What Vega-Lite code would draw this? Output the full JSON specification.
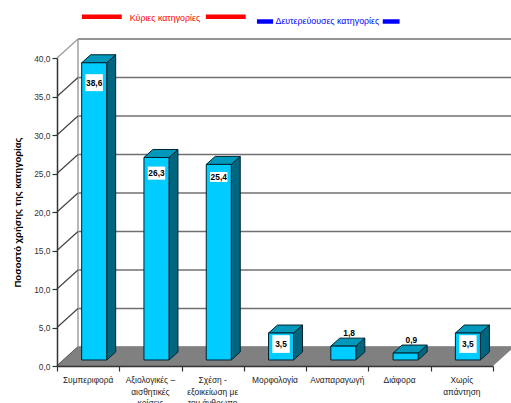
{
"$schema":"https://vega.github.io/schema/vega-lite/v6.json",
"width":436,"height":308,
"autosize":"none",
"padding":{"left":57,"top":58,"right":18,"bottom":37},
"background":"white",
"config":{"view":{"stroke":null},"font":"Liberation Sans","axis":{"labelOverlap":false,"labelBound":false,"labelFlush":false}},
"datasets":{
"bars":[
{"category":"Συμπεριφορά","label":"Συμπεριφορά","order":0,"value":38.6,"tag":"38,6","boxLow":35.7,"boxHigh":37.9},
{"category":"Αξιολογικές","label":"Αξιολογικές –\nαισθητικές\nκρίσεις","order":1,"value":26.3,"tag":"26,3","boxLow":24.2,"boxHigh":25.9},
{"category":"Σχέση","label":"Σχέση -\nεξοικείωση με\nτον άνθρωπο","order":2,"value":25.4,"tag":"25,4","boxLow":23.9,"boxHigh":25.2},
{"category":"Μορφολογία","label":"Μορφολογία","order":3,"value":3.5,"tag":"3,5","boxLow":1.7,"boxHigh":4.0},
{"category":"Αναπαραγωγή","label":"Αναπαραγωγή","order":4,"value":1.8,"tag":"1,8"},
{"category":"Διάφορα","label":"Διάφορα","order":5,"value":0.9,"tag":"0,9"},
{"category":"Χωρίς απάντηση","label":"Χωρίς\nαπάντηση","order":6,"value":3.5,"tag":"3,5","boxLow":1.7,"boxHigh":4.0}
],
"levels":[{"level":0},{"level":5},{"level":10},{"level":15},{"level":20},{"level":25},{"level":30},{"level":35},{"level":40}],
"legendLines":[
{"name":"Κύριες","from":0.4,"to":1.04,"at":45.36,"color":"#ff0000"},
{"name":"Κύριες","from":2.39,"to":3.03,"at":45.36,"color":"#ff0000"},
{"name":"Δευτερεύουσες","from":3.21,"to":3.47,"at":44.74,"color":"#0000ff"},
{"name":"Δευτερεύουσες","from":5.23,"to":5.5,"at":44.74,"color":"#0000ff"}
],
"legendText":[
{"text":"Κύριες κατηγορίες","pos":1.733,"at":45.25,"color":"#ff0000"},
{"text":"Δευτερεύουσες κατηγορίες","pos":4.34,"at":44.8,"color":"#0000ff"}
],
"floor":[{"back":0,"left":0,"right":7},{"back":2.47,"left":0.337,"right":7.337}]
},
"layer":[
{"data":{"name":"levels"},
 "transform":[{"calculate":"datum.level+2.47","as":"wallY"},{"calculate":"0.337","as":"wallX"},{"calculate":"7.3","as":"wallEnd"}],
 "mark":{"type":"rule","stroke":"#707070","strokeWidth":1.5,"clip":false},
 "encoding":{
  "x":{"field":"wallX","type":"quantitative","scale":{"domain":[0,7],"nice":false},
       "axis":{"values":[0,1,2,3,4,5,6,7],"labels":false,"title":null,"grid":false,"tickSize":5,"tickColor":"#333333","domainColor":"#333333","domainWidth":1.5,"tickWidth":1.2,"zindex":2}},
  "x2":{"field":"wallEnd"},
  "y":{"field":"wallY","type":"quantitative","scale":{"domain":[0,40],"nice":false},
       "axis":{"values":[0,5,10,15,20,25,30,35,40],"tickCount":9,"title":"Ποσοστό χρήσης της κατηγορίας","titleFontSize":9.5,"titleFontWeight":"bold","titleColor":"#000000","titlePadding":11,"labelFontSize":8.4,"labelColor":"#333333","labelOverlap":false,"labelSeparation":0,"labelExpr":"replace(format(datum.value,'.1f'),'.',',')","grid":false,"tickSize":5,"tickColor":"#333333","domainColor":"#333333","domainWidth":1.5,"tickWidth":1.2,"labelPadding":2,"zindex":2}}
 }},
{"data":{"values":[{"a":0.337,"b":2.47,"c":42.47}]},
 "mark":{"type":"rule","stroke":"#a0a0a0","strokeWidth":1.5,"clip":false},
 "encoding":{"x":{"field":"a","type":"quantitative"},"y":{"field":"b","type":"quantitative"},"y2":{"field":"c"}}},
{"data":{"name":"levels"},
 "transform":[{"calculate":"datum.level+2.47","as":"wallY"},{"calculate":"0.337","as":"wallX"},{"calculate":"0","as":"frontX"}],
 "mark":{"type":"rule","strokeWidth":1.2,"clip":false},
 "encoding":{
  "x":{"field":"frontX","type":"quantitative"},"x2":{"field":"wallX"},
  "y":{"field":"level","type":"quantitative"},"y2":{"field":"wallY"},
  "color":{"condition":{"test":"datum.level==40","value":"#999999"},"value":"#444444"}}},
{"data":{"name":"floor"},
 "mark":{"type":"area","orient":"horizontal","fill":"#808080","clip":false},
 "encoding":{"y":{"field":"back","type":"quantitative"},"x":{"field":"left","type":"quantitative"},"x2":{"field":"right"}}},
{"data":{"name":"bars"},
 "transform":[
  {"calculate":"[0,1]","as":"k"},{"flatten":["k"]},
  {"calculate":"datum.order+0.798+datum.k*0.144","as":"sx"},
  {"calculate":"0.78+datum.k*1.04","as":"low"},
  {"calculate":"datum.value+0.78+datum.k*1.04","as":"high"}],
 "mark":{"type":"area","fill":"#006680","stroke":"#00222c","strokeWidth":1,"clip":false},
 "encoding":{"detail":{"field":"category"},"x":{"field":"sx","type":"quantitative"},"y":{"field":"low","type":"quantitative"},"y2":{"field":"high"}}},
{"data":{"name":"bars"},
 "transform":[
  {"calculate":"[0,1]","as":"k"},{"flatten":["k"]},
  {"calculate":"datum.value+0.78+datum.k*1.04","as":"ty"},
  {"calculate":"datum.order+0.396+datum.k*0.144","as":"tl"},
  {"calculate":"datum.order+0.798+datum.k*0.144","as":"tr"}],
 "mark":{"type":"area","orient":"horizontal","fill":"#0099bb","stroke":"#00222c","strokeWidth":1,"clip":false},
 "encoding":{"detail":{"field":"category"},"y":{"field":"ty","type":"quantitative"},"x":{"field":"tl","type":"quantitative"},"x2":{"field":"tr"}}},
{"data":{"name":"bars"},
 "transform":[
  {"calculate":"datum.order+0.396","as":"l"},{"calculate":"datum.order+0.798","as":"r"},
  {"calculate":"0.78","as":"low"},{"calculate":"datum.value+0.78","as":"high"}],
 "mark":{"type":"rect","fill":"#00ccff","stroke":"#00222c","strokeWidth":1,"clip":false},
 "encoding":{"x":{"field":"l","type":"quantitative"},"x2":{"field":"r"},"y":{"field":"low","type":"quantitative"},"y2":{"field":"high"}}},
{"data":{"name":"bars"},
 "transform":[{"filter":"isValid(datum.boxLow)"},
  {"calculate":"datum.order+0.597-0.14","as":"l"},{"calculate":"datum.order+0.597+0.14","as":"r"}],
 "mark":{"type":"rect","fill":"white","clip":false},
 "encoding":{"x":{"field":"l","type":"quantitative"},"x2":{"field":"r"},"y":{"field":"boxLow","type":"quantitative"},"y2":{"field":"boxHigh"}}},
{"data":{"name":"bars"},
 "transform":[{"filter":"isValid(datum.boxLow)"},
  {"calculate":"datum.order+0.597","as":"c"},{"calculate":"(datum.boxLow+datum.boxHigh)/2","as":"m"}],
 "mark":{"type":"text","fontSize":8.4,"fontWeight":"bold","color":"#000000","clip":false},
 "encoding":{"x":{"field":"c","type":"quantitative"},"y":{"field":"m","type":"quantitative"},"text":{"field":"tag"}}},
{"data":{"name":"bars"},
 "transform":[{"filter":"!isValid(datum.boxLow)"},
  {"calculate":"datum.order+0.69","as":"c"},{"calculate":"datum.value+2.5","as":"m"}],
 "mark":{"type":"text","fontSize":8.4,"fontWeight":"bold","color":"#000000","clip":false},
 "encoding":{"x":{"field":"c","type":"quantitative"},"y":{"field":"m","type":"quantitative"},"text":{"field":"tag"}}},
{"data":{"name":"bars"},
 "transform":[{"calculate":"datum.order+0.5","as":"c"},{"calculate":"0","as":"base"}],
 "mark":{"type":"text","fontSize":8.4,"color":"#222222","baseline":"top","align":"center","lineBreak":"\n","lineHeight":11.7,"yOffset":10,"clip":false},
 "encoding":{"x":{"field":"c","type":"quantitative"},"y":{"field":"base","type":"quantitative"},"text":{"field":"label"}}},
{"data":{"name":"legendLines"},
 "mark":{"type":"rule","strokeWidth":4.5,"clip":false},
 "encoding":{"x":{"field":"from","type":"quantitative"},"x2":{"field":"to"},"y":{"field":"at","type":"quantitative"},"color":{"field":"color","type":"nominal","scale":null}}},
{"data":{"name":"legendText"},
 "mark":{"type":"text","fontSize":8.8,"clip":false},
 "encoding":{"x":{"field":"pos","type":"quantitative"},"y":{"field":"at","type":"quantitative"},"text":{"field":"text"},"color":{"field":"color","type":"nominal","scale":null}}}
]
}
